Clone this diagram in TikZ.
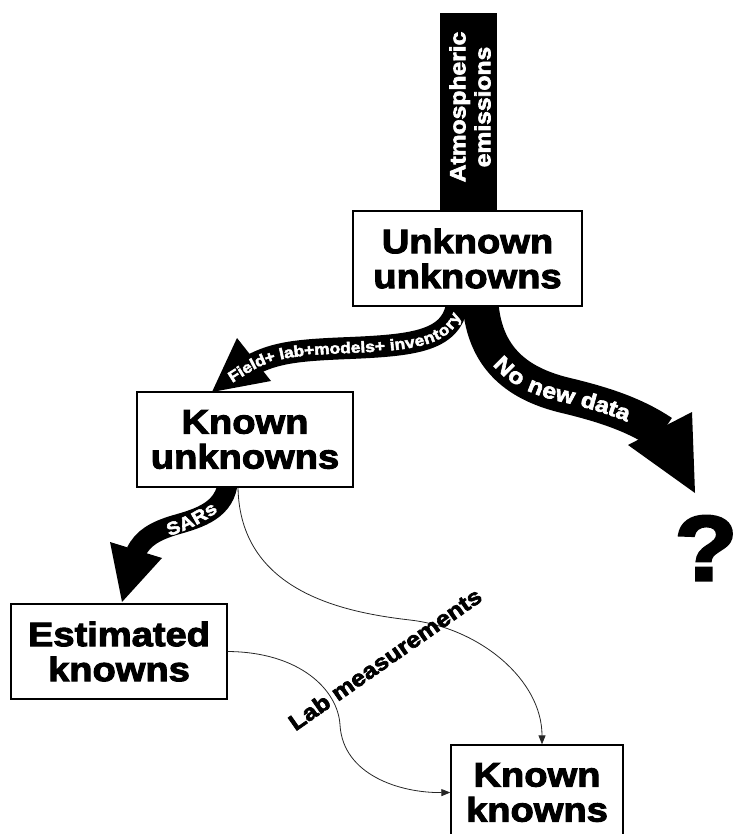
\documentclass[tikz,border=0pt]{standalone}
\usepackage{fontspec}
\newfontfamily\heavy{Liberation Sans Bold}[FakeBold=3,FakeStretch=1.12]
\usetikzlibrary{decorations.text,arrows.meta}
\begin{document}
\begin{tikzpicture}[x=1pt,y=-1pt,
  box/.style={draw, line width=1.3pt, fill=white, align=center, inner sep=0pt,
    minimum height=95pt, font=\heavy\fontsize{34}{35}\selectfont},
  conn/.style={draw=black!85, line width=0.8pt, -{Triangle[length=9pt,width=7pt]}},
]
\useasboundingbox (0,0) rectangle (733,834);
\clip (0,0) rectangle (733,834);

% vertical bar
\fill (440,13) rectangle (497,230);
\node[rotate=90, text=white, align=center, font=\heavy\fontsize{22}{25}\selectfont] (atm) at (470,107) {Atmospheric\\emissions};

% band 1 : Field+lab...
\draw[line width=22pt] (458,296) .. controls (456,340) and (420,345) .. (350,348) .. controls (300,350) and (275,352) .. (250,366);
\fill (237,338) -- (271,381) -- (212,392) -- cycle;
\path[decorate, decoration={text along path, text align=center, raise=-5pt,
  text={|\heavy\fontsize{15.5}{15.5}\selectfont\color{white}|Field+ lab+models+ inventory}}]
  (218,386) -- (250,366) .. controls (275,352) and (300,350) .. (350,348) .. controls (420,345) and (456,340) .. (459,300);

% band 2 : No new data
\draw[line width=36pt] (480,296) .. controls (482,360) and (520,385) .. (568,396) .. controls (605,405) and (635,415) .. (662,433);
\fill (692,412) -- (628,445) -- (695,493) -- cycle;
\path[decorate, decoration={text along path, text align=center, raise=-7pt,
  text={|\heavy\fontsize{22}{22}\selectfont\color{white}|No new data}}]
  (486,335) .. controls (495,370) and (525,387) .. (568,396) .. controls (605,405) and (632,414) .. (654,428);

% band 3 : SARs
\draw[line width=20pt] (228,480) .. controls (226,510) and (200,518) .. (175,525) .. controls (155,531) and (143,538) .. (136,552);
\fill (110,542) -- (162,558) -- (122,602) -- cycle;
\path[decorate, decoration={text along path, text align=center, raise=-6pt,
  text={|\heavy\fontsize{18}{18}\selectfont\color{white}|SARs}}]
  (150,536) .. controls (175,528) and (205,519) .. (228,494);

% boxes
\node[box, minimum width=229pt] (uu) at (467.5,258.5) {Unknown\\unknowns};
\node[box, minimum width=216pt] (ku) at (245,439.5) {Known\\unknowns};
\node[box, minimum width=216pt] (ek) at (119,651.5) {Estimated\\knowns};
\node[box, minimum width=172pt] (kk) at (537,792.5) {Known\\knowns};

% question mark
\node[font=\heavy\fontsize{92}{92}\selectfont, inner sep=0pt] (q) at (706,548) {?};

% thin connectors
\draw[conn] ([xshift=-7pt]ku.south) .. controls (240,590) and (340,612) .. (410,620)
  .. controls (480,628) and (542,680) .. ([xshift=5pt]kk.north);
\draw[conn] (ek.east) .. controls (300,652) and (338,690) .. (340,725)
  .. controls (343,775) and (400,793) .. (kk.west);

\node[rotate=35, font=\heavy\fontsize{22.5}{22.5}\selectfont, inner sep=0pt] (lab) at (385,659) {Lab measurements};
\end{tikzpicture}
\end{document}
